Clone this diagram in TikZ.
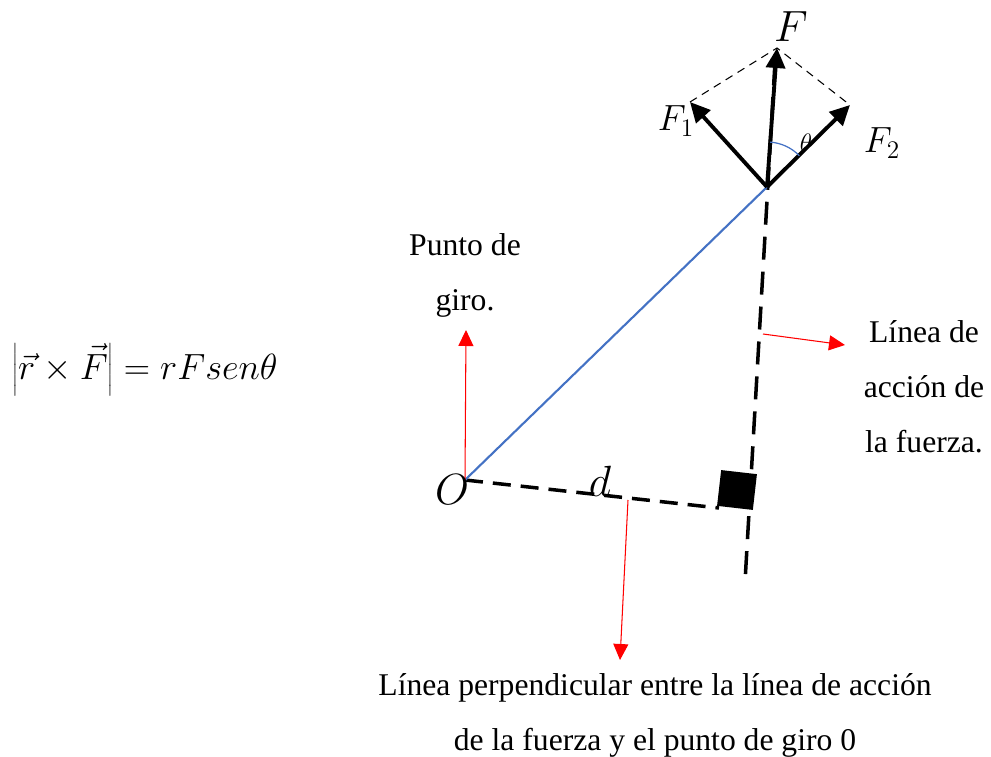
\documentclass[tikz,border=0pt]{standalone}
\usepackage{fontspec}
\setmainfont{Liberation Serif}
\usepackage{tikz}
\usetikzlibrary{arrows.meta}

\begin{document}
\begin{tikzpicture}[
    x=0.02cm, y=-0.02cm,
    force/.style={-{Triangle[length=4mm, width=3.8mm]}, line width=2.2pt},
    guide/.style={-{Triangle[length=3.2mm, width=3mm]}, red, line width=0.6pt},
    action/.style={line width=2pt, dash pattern=on 4.6mm off 2.4mm},
    armline/.style={line width=2pt, dash pattern=on 3.6mm off 2mm},
    sides/.style={line width=0.6pt, dash pattern=on 1.6mm off 1.2mm},
    caption/.style={align=center, font=\fontsize{18}{31.3}\selectfont},
    symb/.style={inner sep=0pt, font=\fontsize{24}{28}\selectfont}
]
\useasboundingbox (0,0) rectangle (991,757);

\coordinate (O) at (465,480);
\coordinate (P) at (767,187);
\coordinate (Ftip) at (777,48);
\coordinate (F1tip) at (690,102);
\coordinate (F2tip) at (850,105);
\coordinate (top) at (775,62);
\coordinate (low) at (745,582);
\coordinate (foot) at (719,508);
\coordinate (giro) at (466,330);
\coordinate (accstart) at (763,334);
\coordinate (acc) at (845,345);
\coordinate (perpstart) at (628,500);
\coordinate (perp) at (620,660);

\draw[action] (top) -- (low);
\draw[armline] (O) -- (foot);
\node[fill, minimum size=0.72cm, inner sep=0pt, rotate=-6.5] (sq) at (737,490) {};
\draw[line width=1.2pt, color={rgb,255:red,68;green,114;blue,196}] (O) -- (P);

\draw[sides] (F1tip) -- (Ftip) -- (F2tip);
\draw[force] (P) -- (Ftip);
\draw[force] (P) -- (F1tip);
\draw[force] (P) -- (F2tip);
\draw[line width=0.7pt, color={rgb,255:red,68;green,114;blue,196}]
    ([shift={(44:0.9cm)}]P) arc[start angle=44, end angle=86, radius=0.9cm];

\draw[guide] (O) -- (giro);
\draw[guide] (accstart) -- (acc);
\draw[guide] (perpstart) -- (perp);

\node[symb] (lf) at (791,27) {$F$};
\node[symb, font=\fontsize{21}{24}\selectfont] (lf1) at (676,121) {$F_1$};
\node[symb, font=\fontsize{21}{24}\selectfont] (lf2) at (882,143) {$F_2$};
\node[symb, font=\fontsize{15}{18}\selectfont] (lth) at (806,143) {$\theta$};
\node[symb, font=\fontsize{26}{30}\selectfont] (lo) at (452,490) {$O$};
\node[symb, font=\fontsize{26}{30}\selectfont] (ld) at (600,481) {$d$};

\node[symb, anchor=west, font=\fontsize{22}{26}\selectfont] (eq) at (12,370)
    {$\left|\vec{r}\times\vec{F}\right| = rFsen\theta$};

\node[caption] (pg) at (465,275) {Punto de\\giro.};
\node[caption] (la) at (924,387) {Línea de\\acción de\\la fuerza.};
\node[caption] (lp) at (655,715) {Línea perpendicular entre la línea de acción\\de la fuerza y el punto de giro 0};
\end{tikzpicture}
\end{document}
